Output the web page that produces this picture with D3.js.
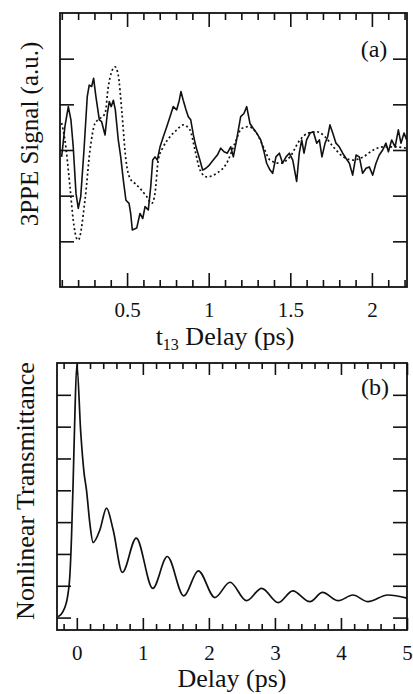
<!DOCTYPE html>
<html>
<head>
<meta charset="utf-8">
<script src="https://cdn.jsdelivr.net/npm/d3@7"></script>
<style>
  body { margin: 0; background: #fff; font-family: "Liberation Serif", "Times New Roman", serif; }
  svg text { font-family: "Liberation Serif", "Times New Roman", serif !important; }
</style>
</head>
<body>
<div id="chart"></div>
<script>
// panel (a): measured 3PPE trace (solid)
const tA = [0.099,0.119,0.140,0.156,0.170,0.187,0.201,0.216,0.236,0.256,0.268,0.283,0.295,0.309,0.330,0.344,0.365,0.379,0.391,0.403,0.416,0.428,0.446,0.461,0.477,0.493,0.512,0.522,0.532,0.559,0.579,0.596,0.610,0.630,0.645,0.657,0.671,0.685,0.702,0.722,0.743,0.763,0.783,0.804,0.820,0.830,0.844,0.861,0.875,0.890,0.906,0.922,0.943,0.963,0.983,1.004,1.028,1.053,1.074,1.094,1.114,1.135,1.151,1.171,1.196,1.216,1.233,1.253,1.273,1.294,1.319,1.339,1.355,1.376,1.392,1.412,1.433,1.453,1.474,1.494,1.515,1.539,1.555,1.570,1.584,1.600,1.621,1.641,1.662,1.678,1.694,1.713,1.729,1.743,1.760,1.780,1.800,1.821,1.841,1.862,1.882,1.903,1.923,1.943,1.964,1.984,2.005,2.025,2.045,2.066,2.086,2.101,2.121,2.142,2.162,2.178,2.197,2.213];
const sigA = [2.85,3.51,3.95,3.66,3.07,2.05,1.72,1.98,3.00,4.17,4.42,4.39,4.57,4.17,3.66,3.62,3.33,3.80,4.06,3.95,4.09,3.88,3.22,2.85,2.34,1.90,1.83,1.61,1.25,1.29,1.61,1.50,1.76,1.69,2.20,2.78,2.85,2.78,3.07,3.29,3.51,3.73,3.95,3.88,4.09,4.28,4.09,3.88,3.73,3.66,3.33,3.07,2.82,2.56,2.60,2.67,2.78,2.89,3.04,2.96,2.93,3.07,2.85,3.22,3.73,3.80,3.95,3.58,3.47,3.37,3.22,2.96,2.71,2.56,2.49,2.85,2.93,2.71,2.85,2.93,2.78,2.31,2.93,3.22,2.93,3.22,3.37,3.40,3.15,3.22,2.85,3.15,3.29,3.55,3.37,3.15,3.07,2.93,2.82,2.71,2.45,2.89,2.85,2.49,2.60,2.63,2.45,2.71,2.89,3.00,3.15,2.96,3.22,3.07,3.44,3.15,3.37,3.22];

// panel (a): model fit (dotted)
const tFit = [0.099,0.119,0.150,0.170,0.190,0.201,0.242,0.273,0.303,0.334,0.365,0.385,0.405,0.426,0.446,0.467,0.493,0.518,0.548,0.579,0.620,0.651,0.671,0.691,0.722,0.763,0.804,0.844,0.885,0.916,0.947,0.988,1.049,1.110,1.161,1.202,1.243,1.294,1.335,1.376,1.437,1.498,1.559,1.610,1.662,1.713,1.763,1.825,1.886,1.947,2.009,2.070,2.131,2.213];
const sigFit = [3.59,3.22,2.20,1.47,1.07,1.03,1.90,3.00,3.58,3.69,3.80,4.39,4.71,4.82,4.64,3.88,2.78,2.38,2.27,2.16,1.98,1.83,2.05,2.78,3.07,3.29,3.44,3.55,3.44,3.00,2.56,2.41,2.49,2.71,3.15,3.47,3.51,3.37,3.07,2.78,2.71,2.85,3.22,3.37,3.40,3.29,3.07,2.85,2.78,2.85,3.00,3.07,3.07,3.04];

// panel (b): nonlinear transmittance
const tB = [-0.283,-0.21,-0.14,-0.106,-0.08,-0.056,-0.03,0.0,0.06,0.11,0.147,0.197,0.247,0.35,0.45,0.55,0.69,0.90,1.15,1.37,1.62,1.84,2.09,2.32,2.57,2.80,3.05,3.27,3.53,3.72,3.96,4.18,4.41,4.71,5.0];
const transB = [1.03,1.19,1.66,2.29,3.55,5.23,7.32,8.95,6.8,5.54,5.0,3.97,3.36,3.76,4.44,3.76,2.42,3.5,1.92,2.92,1.68,2.47,1.63,2.11,1.53,1.92,1.47,1.84,1.50,1.79,1.53,1.71,1.50,1.71,1.61];

const xTicksA = [0.5, 1, 1.5, 2];
const xTicksB = [0, 1, 2, 3, 4, 5];
const yTicksA = [1, 2, 3, 4, 5];
const yTicksB = [1, 2, 3, 4, 5, 6, 7, 8];

const fontFam = "Liberation Serif";
const width = 413, height = 694;
const svg = d3.select("#chart").append("svg")
    .attr("width", width)
    .attr("height", height)
    .attr("font-family", fontFam);

function panel(opt) {
    const x = d3.scaleLinear().domain(opt.xDomain).range([opt.left, opt.right]);
    const y = d3.scaleLinear().domain(opt.yDomain).range([opt.bottom, opt.top]);
    const g = svg.append("g");

    // minor ticks, bottom and top
    g.append("g")
        .attr("transform", `translate(0,${opt.bottom})`)
        .call(d3.axisBottom(x).tickValues(opt.minor).tickSizeInner(-opt.minorLen).tickSizeOuter(0).tickFormat(""));
    g.append("g")
        .attr("transform", `translate(0,${opt.top})`)
        .call(d3.axisTop(x).tickValues(opt.minor).tickSizeInner(-opt.minorLen).tickSizeOuter(0).tickFormat(""));
    // major ticks with labels
    g.append("g")
        .attr("class", "xlab")
        .attr("transform", `translate(0,${opt.bottom})`)
        .call(d3.axisBottom(x).tickValues(opt.major).tickSizeInner(-opt.majorLen).tickSizeOuter(0).tickPadding(opt.pad).tickFormat(d => d));
    g.append("g")
        .attr("transform", `translate(0,${opt.top})`)
        .call(d3.axisTop(x).tickValues(opt.major).tickSizeInner(-opt.majorLen).tickSizeOuter(0).tickFormat(""));
    // y ticks, no labels
    g.append("g")
        .attr("transform", `translate(${opt.left},0)`)
        .call(d3.axisLeft(y).tickValues(opt.yTicks).tickSizeInner(-14).tickSizeOuter(0).tickFormat(""));
    g.append("g")
        .attr("transform", `translate(${opt.right},0)`)
        .call(d3.axisRight(y).tickValues(opt.yTicks).tickSizeInner(-14).tickSizeOuter(0).tickFormat(""));

    g.selectAll(".domain").remove();
    g.selectAll("g").attr("font-family", fontFam);
    g.selectAll(".tick line").attr("stroke", "#111").attr("stroke-width", 1.6);
    g.selectAll(".xlab").attr("font-size", 21);
    g.selectAll(".xlab text").attr("fill", "#111").attr("font-family", fontFam);

    g.append("rect")
        .attr("x", opt.left).attr("y", opt.top)
        .attr("width", opt.right - opt.left).attr("height", opt.bottom - opt.top)
        .attr("fill", "none").attr("stroke", "#111").attr("stroke-width", 1.8);

    return { x, y, g };
}

function label(x, y, size, txt, rot) {
    return svg.append("text")
        .attr("transform", `translate(${x},${y})` + (rot ? " rotate(-90)" : ""))
        .attr("text-anchor", "middle")
        .attr("font-family", fontFam)
        .attr("font-size", size)
        .attr("fill", "#111")
        .text(txt);
}

// ---- panel (a)
const pa = panel({
    xDomain: [0.089, 2.215], yDomain: [0, 6],
    left: 60, right: 407, top: 13, bottom: 287,
    major: xTicksA, minor: d3.range(1, 23).map(d => d / 10).filter(d => d * 2 % 1 !== 0 && d > 0.09),
    majorLen: 14, minorLen: 7, pad: 15, yTicks: yTicksA
});

svg.append("clipPath").attr("id", "clipA").append("rect")
    .attr("x", 60).attr("y", 13).attr("width", 347).attr("height", 274);

const lineFit = d3.line().x((d, i) => pa.x(tFit[i])).y(d => pa.y(d)).curve(d3.curveMonotoneX);
svg.append("path")
    .attr("d", lineFit(sigFit))
    .attr("clip-path", "url(#clipA)")
    .attr("fill", "none").attr("stroke", "#111").attr("stroke-width", 1.7)
    .attr("stroke-dasharray", "2,2.6");

const lineA = d3.line().x((d, i) => pa.x(tA[i])).y(d => pa.y(d));
svg.append("path")
    .attr("d", lineA(sigA))
    .attr("clip-path", "url(#clipA)")
    .attr("fill", "none").attr("stroke", "#111").attr("stroke-width", 1.6)
    .attr("stroke-linejoin", "round");

label(374, 57, 24, "(a)");
label(38, 134, 25, "3PPE Signal (a.u.)", true);

const tl = label(225, 345, 26, "");
tl.append("tspan").text("t");
tl.append("tspan").attr("font-size", 16).attr("dy", 5).text("13");
tl.append("tspan").attr("dy", -5).text(" Delay (ps)");

// ---- panel (b)
const pb = panel({
    xDomain: [-0.3, 5], yDomain: [0.61, 9],
    left: 57, right: 407, top: 363, bottom: 630,
    major: xTicksB, minor: d3.range(-1, 25).map(d => d / 5).filter(d => d % 1 !== 0),
    majorLen: 12, minorLen: 6, pad: 15, yTicks: yTicksB
});

const lineB = d3.line().x((d, i) => pb.x(tB[i])).y(d => pb.y(d)).curve(d3.curveMonotoneX);
svg.append("path")
    .attr("d", lineB(transB))
    .attr("fill", "none").attr("stroke", "#111").attr("stroke-width", 1.7);

label(375, 395, 24, "(b)");
label(34, 491, 26, "Nonlinear Transmittance", true);
label(232, 687, 26, "Delay (ps)");
</script>
</body>
</html>
